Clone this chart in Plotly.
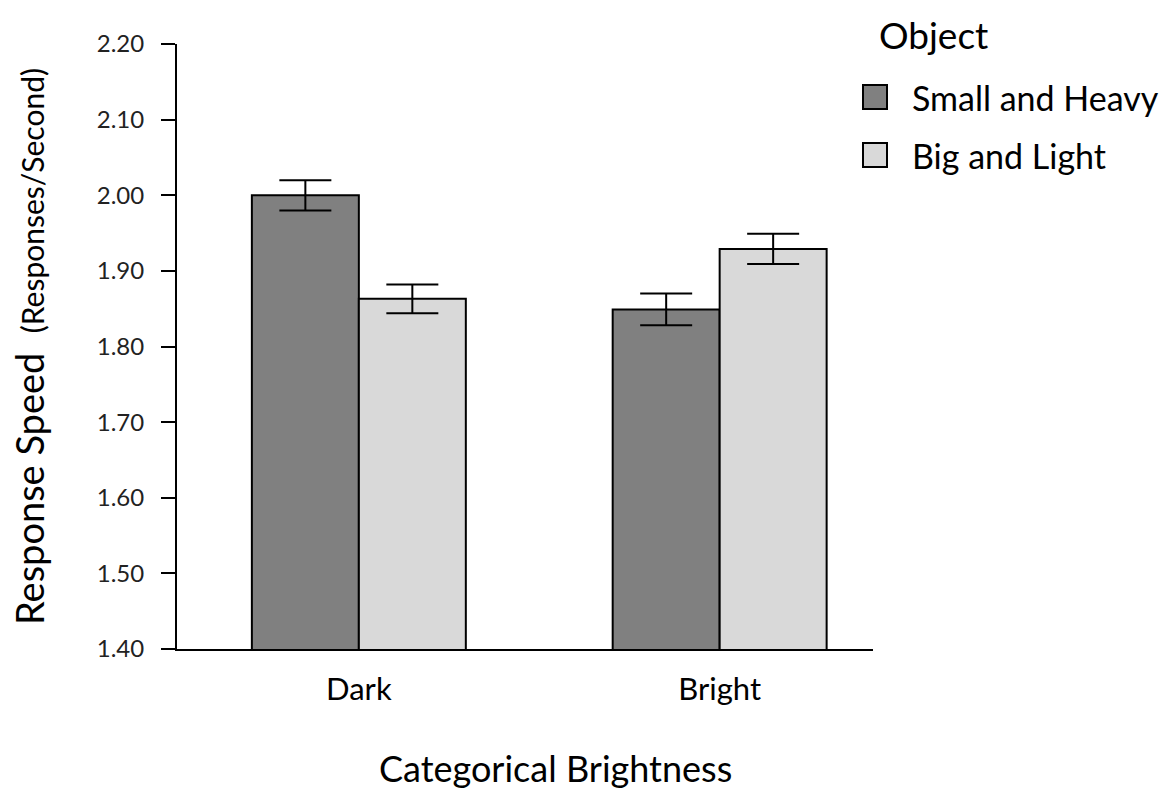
import plotly.graph_objects as go

# Grouped means with standard errors
categories = ["Dark", "Bright"]
small_heavy = [2.000, 1.849]
small_heavy_err = [0.020, 0.021]
big_light = [1.863, 1.929]
big_light_err = [0.019, 0.020]
y_ticks = [1.40, 1.50, 1.60, 1.70, 1.80, 1.90, 2.00, 2.10, 2.20]
series_names = ["Small and Heavy", "Big and Light"]

FONT = "Lato, 'Open Sans', sans-serif"
DARK = "#808080"
LIGHT = "#d9d9d9"

# plot area in pixels
L, R, T, B = 177, 873, 44, 649
W, H = R - L, B - T


def px(x):
    return (x - L) / W


def py(y):
    return (B - y) / H


fig = go.Figure()

series = [
    (series_names[0], small_heavy, small_heavy_err, DARK),
    (series_names[1], big_light, big_light_err, LIGHT),
]

for name, vals, errs, color in series:
    fig.add_trace(go.Bar(
        x=categories, y=vals, name=name, showlegend=False,
        marker=dict(color=color, line=dict(color="black", width=2)),
        error_y=dict(type="data", array=errs, visible=True,
                     color="black", thickness=2, width=26),
    ))

# Legend: title, swatches and labels in paper coordinates
shapes = []
annotations = [
    dict(text="Object", xref="paper", yref="paper",
         x=px(877), y=py(34), xanchor="left", yanchor="middle",
         showarrow=False, font=dict(family=FONT, size=37, color="black")),
]
box = 24
for i, (name, _, _, color) in enumerate(series):
    cy = 97 + 58 * i
    shapes.append(dict(
        type="rect", xref="paper", yref="paper",
        x0=px(863), x1=px(863 + box), y0=py(cy + box / 2), y1=py(cy - box / 2),
        fillcolor=color, line=dict(color="black", width=2),
    ))
    annotations.append(dict(
        text=name, xref="paper", yref="paper",
        x=px(910), y=py(cy), xanchor="left", yanchor="middle",
        showarrow=False, font=dict(family=FONT, size=34, color="black"),
    ))

annotations.append(dict(
    text="Categorical Brightness", xref="paper", yref="paper",
    x=px(555), y=py(768), xanchor="center", yanchor="middle",
    showarrow=False, font=dict(family=FONT, size=36, color="black"),
))

fig.update_layout(
    width=1166, height=804, autosize=False,
    margin=dict(l=L, r=1166 - R, t=T, b=804 - B),
    paper_bgcolor="white", plot_bgcolor="white",
    barmode="group", bargap=0.407, bargroupgap=0,
    font=dict(family=FONT, color="black"),
    showlegend=False,
    shapes=shapes,
    annotations=annotations,
    xaxis=dict(
        type="category", range=[-0.504, 1.425],
        showline=True, linecolor="black", linewidth=2,
        ticks="", showgrid=False, zeroline=False,
        tickfont=dict(family=FONT, size=31, color="black"),
        ticklabelstandoff=12,
    ),
    yaxis=dict(
        range=[1.40, 2.20], tickvals=y_ticks, tickformat=".2f",
        showline=True, linecolor="black", linewidth=2,
        ticks="outside", ticklen=14, tickwidth=2, tickcolor="black",
        showgrid=False, zeroline=False,
        tickfont=dict(family=FONT, size=24, color="#222222"),
        ticklabelstandoff=12,
        title=dict(
            text="Response Speed  <span style='font-size:30px'>(Responses/Second)</span>",
            font=dict(family=FONT, size=38, color="black"),
            standoff=40,
        ),
    ),
)

fig.write_html("out.html")
